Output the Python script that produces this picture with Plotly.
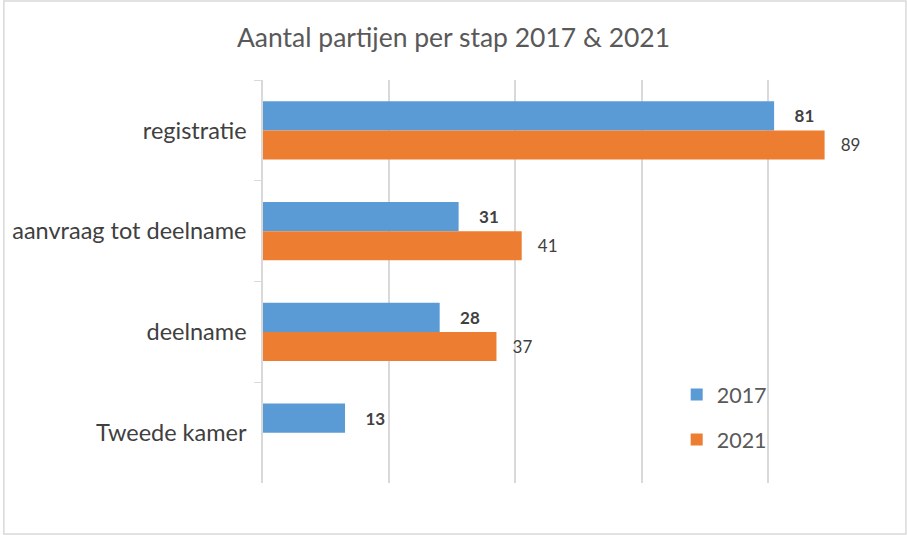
import plotly.graph_objects as go

categories = ["registratie", "aanvraag tot deelname", "deelname", "Tweede kamer"]
vals_2017 = [81, 31, 28, 13]
vals_2021 = [89, 41, 37, None]
series_names = ["2017", "2021"]
title = "Aantal partijen per stap 2017 & 2021"

W, H = 907, 535
ML, MR, MT, MB = 261, 13, 80, 52
FONT = "Lato, Open Sans, sans-serif"

fig = go.Figure()
fig.add_trace(go.Bar(
    y=categories, x=vals_2017, name=series_names[0], orientation="h",
    marker=dict(color="#5B9BD5", line=dict(width=0)),
    text=[f"<b>{v}</b>" for v in vals_2017], texttemplate="    %{text}",
    textposition="outside", cliponaxis=False,
    textfont=dict(size=17, color="#404040", family=FONT),
    legendgroup="a",
))
fig.add_trace(go.Bar(
    y=categories, x=vals_2021, name=series_names[1], orientation="h",
    marker=dict(color="#ED7D31", line=dict(width=0)),
    text=[("" if v is None else str(v)) for v in vals_2021], texttemplate="   %{text}",
    textposition="outside", cliponaxis=False,
    textfont=dict(size=17, color="#404040", family=FONT),
    legendgroup="b",
))

pw = W - ML - MR
ph = H - MT - MB
fig.update_layout(
    width=W, height=H,
    margin=dict(l=ML, r=MR, t=MT, b=MB),
    paper_bgcolor="white", plot_bgcolor="white",
    barmode="group", bargap=0.424, bargroupgap=0,
    font=dict(family=FONT, color="#595959"),
    title=dict(text=title, x=0.5, xanchor="center", y=1 - 38 / H, yanchor="middle",
               font=dict(size=26.5, color="#595959", family=FONT)),
    xaxis=dict(range=[0, 100], dtick=20, showticklabels=False, showgrid=True,
               gridcolor="#D9D9D9", gridwidth=1.5, zeroline=False, showline=False,
               fixedrange=True),
    yaxis=dict(autorange="reversed", tickson="boundaries", ticks="outside", ticklen=7,
               tickcolor="#D9D9D9", showline=True, linecolor="#D9D9D9", linewidth=1.5,
               showgrid=False, ticklabelstandoff=10, fixedrange=True,
               tickfont=dict(size=23.5, color="#404040", family=FONT)),
    legend=dict(x=(676 - ML) / pw, y=1 - (374 - MT) / ph, xanchor="left", yanchor="top",
                bgcolor="rgba(0,0,0,0)", font=dict(size=21.5, color="#595959", family=FONT),
                tracegroupgap=14, traceorder="grouped", itemwidth=30),
    shapes=[dict(type="rect", xref="paper", yref="paper",
                 x0=-(ML - 1) / pw, x1=1 + (MR - 1) / pw,
                 y0=-(MB - 1) / ph, y1=1 + (MT - 1) / ph,
                 line=dict(color="#D9D9D9", width=1.5), layer="below")],
    showlegend=True,
)

fig.write_html("out.html", post_script="document.body.style.margin='0';",
               config={"displayModeBar": False})
